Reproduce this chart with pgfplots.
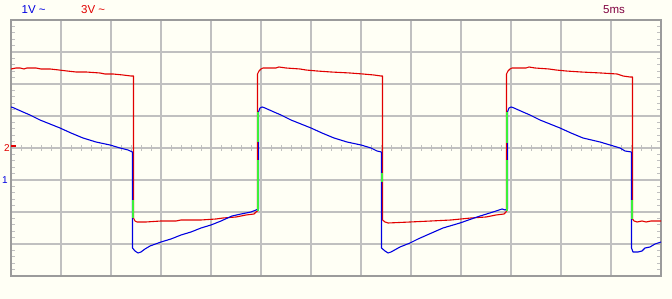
\documentclass[border=0pt]{standalone}
\usepackage{pgfplots}
\pgfplotsset{compat=1.18}
\usepackage{fontspec}
\setmainfont{Liberation Sans}
\definecolor{bgc}{RGB}{255,255,245}
\definecolor{gridc}{RGB}{192,192,192}
\definecolor{framec}{RGB}{155,155,155}
\definecolor{tr}{RGB}{225,0,0}
\definecolor{tb}{RGB}{0,0,225}
\definecolor{tg}{RGB}{60,240,60}
\definecolor{tlab}{RGB}{128,0,64}
\begin{document}
\begin{tikzpicture}
\fill[bgc] (0pt,0pt) rectangle (672pt,299pt);
\begin{axis}[at={(11pt,23pt)}, anchor=south west, scale only axis,
  width=650pt, height=256pt,
  xmin=0, xmax=65, ymin=-128, ymax=128,
  xtick={0,5,...,65}, ytick={-128,-96,...,128},
  minor y tick num=4,
  xticklabels={}, yticklabels={},
  grid=major, major grid style={gridc, line width=1.2pt},
  axis line style={framec, line width=2pt},
  major tick length=0pt, minor tick length=4pt, tick align=inside,
  minor tick style={gridc, line width=0.9pt},
  xtick style={draw=none},
  axis background/.style={fill=bgc},
  every axis plot/.append style={line width=1.1pt, line join=round}]
\pgfplotsinvokeforeach{1,...,64}{\draw[gridc, line width=0.9pt] (axis cs:#1,-2.6) -- (axis cs:#1,2.6);}
% channel 2 (red)
\addplot[tr] coordinates {
(0,79) (0.5,80) (0.9,80) (1.3,79) (1.6,80) (2.5,80) (3.0,79) (3.9,79) (4.8,78) (5.6,77) (6.5,76) (7.5,76) (8.9,75) (9.4,74) (10.2,74) (11.2,73) (12.0,72) (12.25,72)
(12.25,-70) (12.4,-73) (12.6,-74) (13.5,-74) (15.0,-73) (16.5,-73) (17.0,-72) (19.0,-72) (20.5,-71) (21.2,-70) (22.5,-69) (23.5,-67) (24.3,-66) (24.5,-64) (24.65,-63)
(24.65,74) (24.8,77) (25.0,79) (25.2,80) (26.5,80) (26.8,81) (27.5,80) (28.9,79) (29.5,78) (30.6,77) (32.0,76) (33.9,75) (35.2,74) (36.3,73) (37.0,72) (37.15,72)
(37.15,-72) (37.4,-74) (37.7,-75) (39.9,-74) (42.0,-73) (44.0,-72) (46.0,-70) (47.5,-69) (48.5,-67) (49.3,-66) (49.5,-64) (49.55,-63)
(49.55,74) (49.7,77) (49.9,79) (50.1,80) (51.5,80) (51.8,81) (52.4,80) (53.8,79) (54.5,78) (55.5,77) (57.0,76) (59.0,75) (60.6,74) (61.2,72) (61.9,71) (62.15,71)
(62.15,-71) (62.3,-73) (62.6,-74) (63.1,-73) (63.5,-74) (64.0,-73) (65,-73)};
% channel 1 (blue)
\addplot[tb] coordinates {
(0,41) (0.3,40) (1.2,36) (1.9,33) (2.7,29) (2.9,28) (3.9,24) (4.9,20) (6.0,15) (7.2,10) (8.5,6) (9.9,3) (10.9,0) (11.7,-2) (12.15,-4)
(12.15,-100) (12.4,-103) (12.7,-105) (13.0,-104) (13.4,-101) (13.9,-98) (15.0,-94) (16.0,-91) (17.0,-87) (18.0,-84) (19.0,-80) (20.0,-77) (21.0,-73) (22.1,-68) (23.0,-66) (24.0,-64) (24.5,-62) (24.75,-61)
(24.75,36) (24.9,40) (25.1,41) (25.4,40) (26.3,36) (27.0,33) (27.8,29) (28.0,28) (29.0,24) (30.0,20) (31.1,15) (32.3,10) (33.6,6) (35.0,3) (36.0,0) (36.6,-3) (37.05,-4)
(37.05,-100) (37.4,-103) (37.7,-105) (38.0,-104) (38.9,-99) (39.9,-95) (40.7,-91) (41.6,-87) (43.2,-80) (44.9,-75) (46.6,-69) (48.2,-64) (49.1,-61) (49.4,-62) (49.65,-61)
(49.65,36) (49.8,40) (50.0,41) (50.3,40) (51.2,36) (51.9,33) (52.7,29) (52.9,28) (53.9,24) (54.9,20) (56.0,15) (57.2,10) (58.9,6) (59.9,3) (60.9,0) (61.4,-3) (62.05,-4)
(62.05,-100) (62.2,-104) (62.7,-104) (63.1,-103) (63.4,-100) (63.9,-99) (64.4,-96) (65,-94)};
% overlap segments on the edges
\addplot[tg] coordinates {(12.2,-52) (12.2,-70)};
\addplot[tg, line width=1.8pt] coordinates {(24.7,-63) (24.7,36)};
\addplot[tr] coordinates {(24.65,6) (24.65,-12)};
\addplot[tb] coordinates {(24.76,6) (24.76,-12)};
\addplot[tg] coordinates {(37.1,-25) (37.1,-34)};
\addplot[tg, line width=1.8pt] coordinates {(49.6,-63) (49.6,36)};
\addplot[tr] coordinates {(49.55,5) (49.55,-12)};
\addplot[tb] coordinates {(49.66,5) (49.66,-12)};
\addplot[tg] coordinates {(62.1,-52) (62.1,-71)};
\end{axis}
\fontsize{11.5}{13}\selectfont
\node[anchor=base west, inner sep=0pt, text=tb] at (21.5pt,285pt) {1V \textasciitilde};
\node[anchor=base west, inner sep=0pt, text=tr] at (81pt,285pt) {3V \textasciitilde};
\node[anchor=base west, inner sep=0pt, text=tlab] at (603pt,285pt) {5ms};
\fill[tr] (11pt,152pt) rectangle (16pt,154pt);
\node[anchor=base west, inner sep=0pt, text=tr, font=\fontsize{10}{11}\selectfont] at (4pt,147pt) {2};
\node[anchor=base west, inner sep=0pt, text=tb, font=\fontsize{10}{11}\selectfont] at (2pt,115pt) {1};
\end{tikzpicture}
\end{document}
